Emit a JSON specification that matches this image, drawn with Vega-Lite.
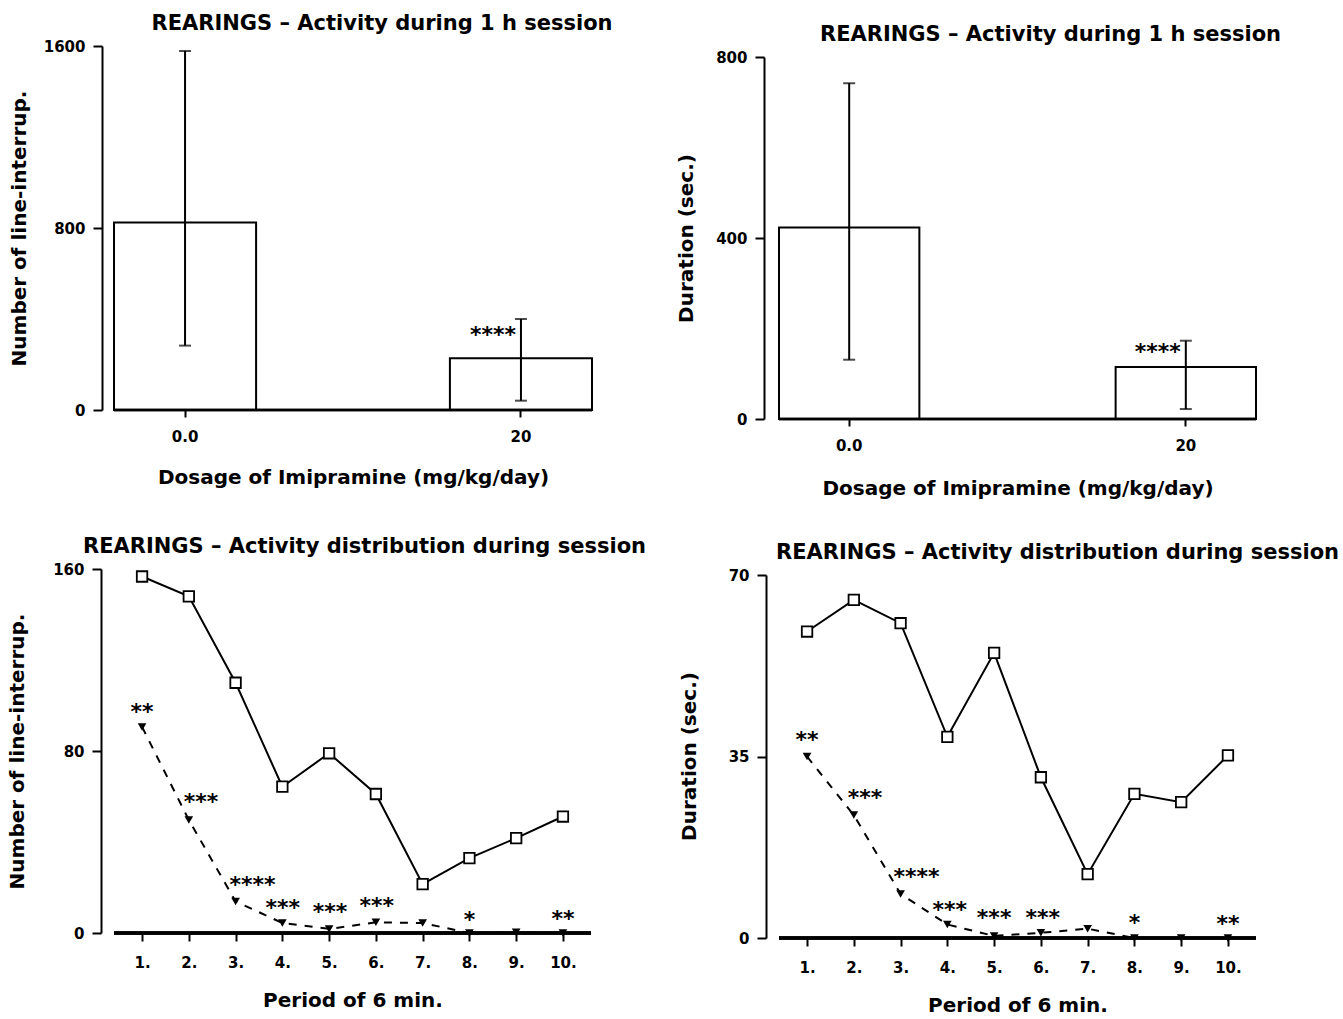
{
  "$schema": "https://vega.github.io/schema/vega-lite/v6.json",
  "background": "white",
  "padding": {"left": 7, "top": 13, "right": 5, "bottom": 5},
  "config": {
    "font": "DejaVu Sans",
    "view": {"stroke": null},
    "axis": {
      "grid": false,
      "domainColor": "black", "tickColor": "black", "labelColor": "black", "titleColor": "black",
      "labelFont": "DejaVu Sans", "labelFontWeight": "bold", "labelFontSize": 15,
      "titleFont": "DejaVu Sans", "titleFontWeight": "bold", "titleFontSize": 20,
      "domainWidth": 2, "tickWidth": 2
    },
    "title": {"font": "DejaVu Sans", "fontSize": 21, "fontWeight": "bold", "color": "black", "frame": "group", "anchor": "middle"}
  },
  "datasets": {
    "count": [
      {"dose": "0.0", "mean": 824, "lo": 283, "hi": 1578, "stars": ""},
      {"dose": "20", "mean": 227, "lo": 41, "hi": 400, "stars": "****", "star_y": 329}
    ],
    "duration": [
      {"dose": "0.0", "mean": 423, "lo": 131, "hi": 742, "stars": ""},
      {"dose": "20", "mean": 115, "lo": 22, "hi": 173, "stars": "****", "star_y": 149}
    ],
    "count_period": [
      {"period": 1, "control": 156.7, "imipramine": 90.6},
      {"period": 2, "control": 148, "imipramine": 49.7},
      {"period": 3, "control": 110, "imipramine": 13.9},
      {"period": 4, "control": 64.3, "imipramine": 4.4},
      {"period": 5, "control": 79, "imipramine": 1.8},
      {"period": 6, "control": 61.1, "imipramine": 4.7},
      {"period": 7, "control": 21.5, "imipramine": 4.4},
      {"period": 8, "control": 32.9, "imipramine": 0},
      {"period": 9, "control": 41.7, "imipramine": 0.3},
      {"period": 10, "control": 51.2, "imipramine": 0}
    ],
    "count_stars": [
      {"x": 1.0, "y": 97.0, "stars": "**"},
      {"x": 2.26, "y": 57.7, "stars": "***"},
      {"x": 3.36, "y": 21.2, "stars": "****"},
      {"x": 4.01, "y": 11.0, "stars": "***"},
      {"x": 5.02, "y": 9.1, "stars": "***"},
      {"x": 6.02, "y": 12.0, "stars": "***"},
      {"x": 8.0, "y": 5.8, "stars": "*"},
      {"x": 10.0, "y": 6.1, "stars": "**"}
    ],
    "duration_period": [
      {"period": 1, "control": 59.1, "imipramine": 35.0},
      {"period": 2, "control": 65.2, "imipramine": 23.7},
      {"period": 3, "control": 60.7, "imipramine": 8.5},
      {"period": 4, "control": 38.8, "imipramine": 2.6},
      {"period": 5, "control": 55.0, "imipramine": 0.4},
      {"period": 6, "control": 31.0, "imipramine": 1.0},
      {"period": 7, "control": 12.3, "imipramine": 1.8},
      {"period": 8, "control": 27.8, "imipramine": 0},
      {"period": 9, "control": 26.2, "imipramine": 0},
      {"period": 10, "control": 35.2, "imipramine": 0}
    ],
    "duration_stars": [
      {"x": 1.0, "y": 38.2, "stars": "**"},
      {"x": 2.24, "y": 27.0, "stars": "***"},
      {"x": 3.34, "y": 11.8, "stars": "****"},
      {"x": 4.05, "y": 5.4, "stars": "***"},
      {"x": 5.0, "y": 3.8, "stars": "***"},
      {"x": 6.04, "y": 3.8, "stars": "***"},
      {"x": 8.0, "y": 2.9, "stars": "*"},
      {"x": 10.0, "y": 2.7, "stars": "**"}
    ]
  },
  "spacing": 29,
  "hconcat": [
    {
      "spacing": 49,
      "vconcat": [
        {
          "width": 478, "height": 364,
          "title": {"text": "REARINGS – Activity during 1 h session", "dx": 29, "offset": 5},
          "data": {"name": "count"},
          "layer": [
            {
              "mark": {"type": "bar", "fill": "white", "stroke": "black", "strokeWidth": 2},
              "encoding": {
                "x": {"field": "dose", "type": "nominal", "sort": null,
                      "scale": {"paddingInner": 0.577, "paddingOuter": 0},
                      "axis": {"title": "Dosage of Imipramine (mg/kg/day)", "labelAngle": 0, "domain": false, "tickSize": 7, "labelPadding": 12, "titlePadding": 23}},
                "y": {"field": "mean", "type": "quantitative", "scale": {"domain": [0, 1600], "nice": false},
                      "axis": {"title": "Number of line-interrup.", "format": "d", "values": [0, 800, 1600], "offset": 12, "tickSize": 9, "labelPadding": 8, "titleX": -83, "titleY": 182, "titleBaseline": "middle"}}
              }
            },
            {"mark": {"type": "rule", "color": "black", "strokeWidth": 2.5}, "encoding": {"y": {"datum": 0, "type": "quantitative", "title": "Number of line-interrup."}}},
            {
              "mark": {"type": "errorbar", "thickness": 2, "ticks": {"size": 12, "color": "black"}, "rule": {"color": "black"}},
              "encoding": {
                "x": {"field": "dose", "type": "nominal", "sort": null, "title": "Dosage of Imipramine (mg/kg/day)"},
                "y": {"field": "lo", "type": "quantitative", "title": "Number of line-interrup."},
                "y2": {"field": "hi"}
              }
            },
            {
              "mark": {"type": "text", "align": "right", "baseline": "middle", "dx": -5, "fontSize": 22, "fontWeight": "bold", "color": "black"},
              "encoding": {
                "x": {"field": "dose", "type": "nominal", "sort": null, "title": "Dosage of Imipramine (mg/kg/day)"},
                "y": {"field": "star_y", "type": "quantitative", "title": "Number of line-interrup."},
                "text": {"field": "stars"}
              }
            }
          ]
        },
        {
          "width": 477, "height": 364,
          "title": {"text": "REARINGS – Activity distribution during session", "dx": 12, "offset": 5},
          "layer": [
            {"data": {"name": "count_period"}, "mark": {"type": "rule", "color": "black", "strokeWidth": 2.5}, "encoding": {"y": {"datum": 0, "type": "quantitative", "scale": {"domain": [0, 160], "nice": false},
              "axis": {"title": "Number of line-interrup.", "values": [0, 80, 160], "offset": 13, "tickSize": 9, "labelPadding": 8, "titleX": -84, "titleY": 182, "titleBaseline": "middle"}}}},
            {
              "data": {"name": "count_period"},
              "mark": {"type": "line", "color": "black", "strokeWidth": 2},
              "encoding": {
                "x": {"field": "period", "type": "quantitative", "scale": {"domain": [0.4, 10.6], "nice": false, "zero": false},
                      "axis": {"title": "Period of 6 min.", "values": [1,2,3,4,5,6,7,8,9,10], "labelExpr": "datum.value + '.'", "domain": false, "tickSize": 8, "labelPadding": 14, "titlePadding": 20}},
                "y": {"field": "control", "type": "quantitative", "title": "Number of line-interrup."}
              }
            },
            {
              "data": {"name": "count_period"},
              "mark": {"type": "line", "color": "black", "strokeWidth": 2, "strokeDash": [8, 8]},
              "encoding": {
                "x": {"field": "period", "type": "quantitative", "title": "Period of 6 min."},
                "y": {"field": "imipramine", "type": "quantitative", "title": "Number of line-interrup."}
              }
            },
            {
              "data": {"name": "count_period"},
              "mark": {"type": "point", "shape": "square", "size": 110, "filled": true, "fill": "white", "stroke": "black", "strokeWidth": 1.8, "opacity": 1},
              "encoding": {
                "x": {"field": "period", "type": "quantitative", "title": "Period of 6 min."},
                "y": {"field": "control", "type": "quantitative", "title": "Number of line-interrup."}
              }
            },
            {
              "data": {"name": "count_period"},
              "mark": {"type": "point", "shape": "triangle-down", "size": 75, "filled": true, "color": "black", "opacity": 1},
              "encoding": {
                "x": {"field": "period", "type": "quantitative", "title": "Period of 6 min."},
                "y": {"field": "imipramine", "type": "quantitative", "title": "Number of line-interrup."}
              }
            },
            {
              "data": {"name": "count_stars"},
              "mark": {"type": "text", "align": "center", "baseline": "middle", "fontSize": 22, "fontWeight": "bold", "color": "black"},
              "encoding": {
                "x": {"field": "x", "type": "quantitative", "title": "Period of 6 min."},
                "y": {"field": "y", "type": "quantitative", "title": "Number of line-interrup."},
                "text": {"field": "stars"}
              }
            }
          ]
        }
      ]
    },
    {
      "spacing": 44,
      "vconcat": [
        {
          "width": 477, "height": 373,
          "title": {"text": "REARINGS – Activity during 1 h session", "dx": 33, "offset": 1},
          "data": {"name": "duration"},
          "layer": [
            {
              "mark": {"type": "bar", "fill": "white", "stroke": "black", "strokeWidth": 2},
              "encoding": {
                "x": {"field": "dose", "type": "nominal", "sort": null,
                      "scale": {"paddingInner": 0.583, "paddingOuter": 0},
                      "axis": {"title": "Dosage of Imipramine (mg/kg/day)", "labelAngle": 0, "domain": false, "tickSize": 7, "labelPadding": 12, "titlePadding": 25}},
                "y": {"field": "mean", "type": "quantitative", "scale": {"domain": [0, 800], "nice": false, "range": [373, 11]},
                      "axis": {"title": "Duration (sec.)", "format": "d", "values": [0, 400, 800], "offset": 15, "tickSize": 9, "labelPadding": 8, "titleX": -78, "titleY": 192, "titleBaseline": "middle"}}
              }
            },
            {"mark": {"type": "rule", "color": "black", "strokeWidth": 2.5}, "encoding": {"y": {"datum": 0, "type": "quantitative", "title": "Duration (sec.)"}}},
            {
              "mark": {"type": "errorbar", "thickness": 2, "ticks": {"size": 12, "color": "black"}, "rule": {"color": "black"}},
              "encoding": {
                "x": {"field": "dose", "type": "nominal", "sort": null, "title": "Dosage of Imipramine (mg/kg/day)"},
                "y": {"field": "lo", "type": "quantitative", "title": "Duration (sec.)"},
                "y2": {"field": "hi"}
              }
            },
            {
              "mark": {"type": "text", "align": "right", "baseline": "middle", "dx": -5, "fontSize": 22, "fontWeight": "bold", "color": "black"},
              "encoding": {
                "x": {"field": "dose", "type": "nominal", "sort": null, "title": "Dosage of Imipramine (mg/kg/day)"},
                "y": {"field": "star_y", "type": "quantitative", "title": "Duration (sec.)"},
                "text": {"field": "stars"}
              }
            }
          ]
        },
        {
          "width": 477, "height": 363,
          "title": {"text": "REARINGS – Activity distribution during session", "dx": 40, "offset": 5},
          "layer": [
            {"data": {"name": "duration_period"}, "mark": {"type": "rule", "color": "black", "strokeWidth": 2.5}, "encoding": {"y": {"datum": 0, "type": "quantitative", "scale": {"domain": [0, 70], "nice": false},
              "axis": {"title": "Duration (sec.)", "values": [0, 35, 70], "offset": 13, "tickSize": 9, "labelPadding": 8, "titleX": -77, "titleY": 181, "titleBaseline": "middle"}}}},
            {
              "data": {"name": "duration_period"},
              "mark": {"type": "line", "color": "black", "strokeWidth": 2},
              "encoding": {
                "x": {"field": "period", "type": "quantitative", "scale": {"domain": [0.4, 10.6], "nice": false, "zero": false},
                      "axis": {"title": "Period of 6 min.", "values": [1,2,3,4,5,6,7,8,9,10], "labelExpr": "datum.value + '.'", "domain": false, "tickSize": 8, "labelPadding": 14, "titlePadding": 20}},
                "y": {"field": "control", "type": "quantitative", "title": "Duration (sec.)"}
              }
            },
            {
              "data": {"name": "duration_period"},
              "mark": {"type": "line", "color": "black", "strokeWidth": 2, "strokeDash": [8, 8]},
              "encoding": {
                "x": {"field": "period", "type": "quantitative", "title": "Period of 6 min."},
                "y": {"field": "imipramine", "type": "quantitative", "title": "Duration (sec.)"}
              }
            },
            {
              "data": {"name": "duration_period"},
              "mark": {"type": "point", "shape": "square", "size": 110, "filled": true, "fill": "white", "stroke": "black", "strokeWidth": 1.8, "opacity": 1},
              "encoding": {
                "x": {"field": "period", "type": "quantitative", "title": "Period of 6 min."},
                "y": {"field": "control", "type": "quantitative", "title": "Duration (sec.)"}
              }
            },
            {
              "data": {"name": "duration_period"},
              "mark": {"type": "point", "shape": "triangle-down", "size": 75, "filled": true, "color": "black", "opacity": 1},
              "encoding": {
                "x": {"field": "period", "type": "quantitative", "title": "Period of 6 min."},
                "y": {"field": "imipramine", "type": "quantitative", "title": "Duration (sec.)"}
              }
            },
            {
              "data": {"name": "duration_stars"},
              "mark": {"type": "text", "align": "center", "baseline": "middle", "fontSize": 22, "fontWeight": "bold", "color": "black"},
              "encoding": {
                "x": {"field": "x", "type": "quantitative", "title": "Period of 6 min."},
                "y": {"field": "y", "type": "quantitative", "title": "Duration (sec.)"},
                "text": {"field": "stars"}
              }
            }
          ]
        }
      ]
    }
  ]
}
